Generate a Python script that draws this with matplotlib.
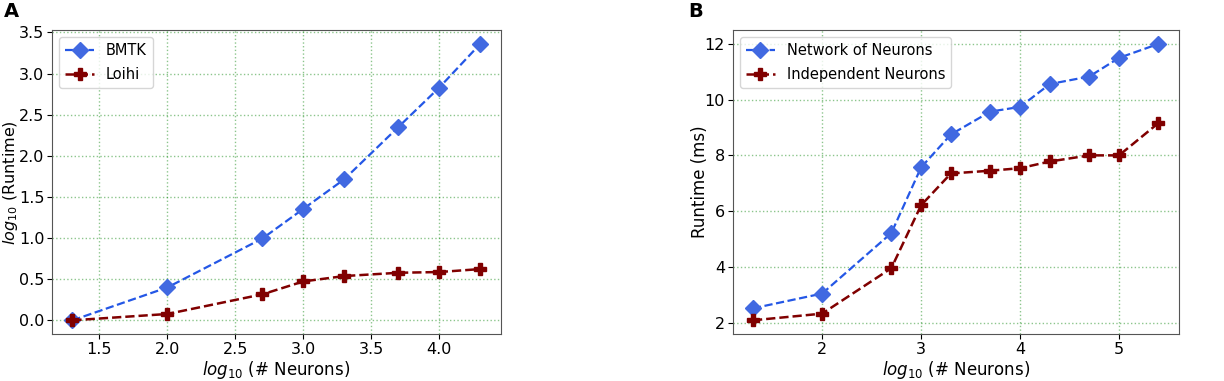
import numpy as np
import matplotlib
matplotlib.use('Agg')
import matplotlib.pyplot as plt

# panel A
neurons_a = [1.301, 2.0, 2.699, 3.0, 3.301, 3.699, 4.0, 4.301]
bmtk = [0.0, 0.40, 0.995, 1.355, 1.715, 2.35, 2.83, 3.36]
loihi = [0.0, 0.077, 0.316, 0.473, 0.538, 0.578, 0.587, 0.623]

# panel B
neurons_b = [1.301, 2.0, 2.699, 3.0, 3.301, 3.699, 4.0, 4.301, 4.699, 5.0, 5.398]
network = [2.51, 3.04, 5.21, 7.57, 8.75, 9.57, 9.74, 10.56, 10.83, 11.50, 12.0]
independent = [2.08, 2.32, 3.95, 6.21, 7.35, 7.45, 7.54, 7.78, 8.0, 8.0, 9.16]

plt.rcParams['font.size'] = 12

fig = plt.figure(figsize=(12.24, 3.81), dpi=100)
ax1 = fig.add_axes([0.0425, 0.123, 0.3665, 0.798])
ax2 = fig.add_axes([0.5986, 0.123, 0.3644, 0.798])

blue = '#2457e6'
red = '#800000'

def style(ax):
    ax.grid(True, color='green', linestyle=':', alpha=0.45, linewidth=1.0)
    for s in ax.spines.values():
        s.set_color('#555555')
    ax.tick_params(labelsize=11.5, pad=2)

ax1.plot(neurons_a, bmtk, '--D', color=blue, markerfacecolor='royalblue',
         markeredgecolor='royalblue', markersize=8.5, linewidth=1.6, label='BMTK')
ax1.plot(neurons_a, loihi, '--P', color=red, markersize=9, linewidth=1.8, label='Loihi')
ax1.set_xlabel(r'$log_{10}$ (# Neurons)')
ax1.set_ylabel(r'$log_{10}$ (Runtime)', fontsize=11.5)
ax1.xaxis.set_label_coords(0.5, -0.083)
ax1.yaxis.set_label_coords(-0.071, 0.5)
ax1.set_yticks(np.arange(0, 3.6, 0.5))
ax1.legend(loc='upper left', fontsize=10.5, labelspacing=0.6)
style(ax1)

ax2.plot(neurons_b, network, '--D', color=blue, markerfacecolor='royalblue',
         markeredgecolor='royalblue', markersize=8.5, linewidth=1.6, label='Network of Neurons')
ax2.plot(neurons_b, independent, '--P', color=red, markersize=9, linewidth=1.8,
         label='Independent Neurons')
ax2.set_xlabel(r'$log_{10}$ (# Neurons)')
ax2.set_ylabel('Runtime (ms)')
ax2.xaxis.set_label_coords(0.5, -0.083)
ax2.yaxis.set_label_coords(-0.053, 0.5)
ax2.set_xticks([2, 3, 4, 5])
ax2.legend(loc='upper left', fontsize=10.5, labelspacing=0.6)
style(ax2)

fig.text(0.003, 0.955, 'A', fontsize=14, fontweight='bold')
fig.text(0.562, 0.955, 'B', fontsize=14, fontweight='bold')

fig.savefig('out.png', dpi=100)
